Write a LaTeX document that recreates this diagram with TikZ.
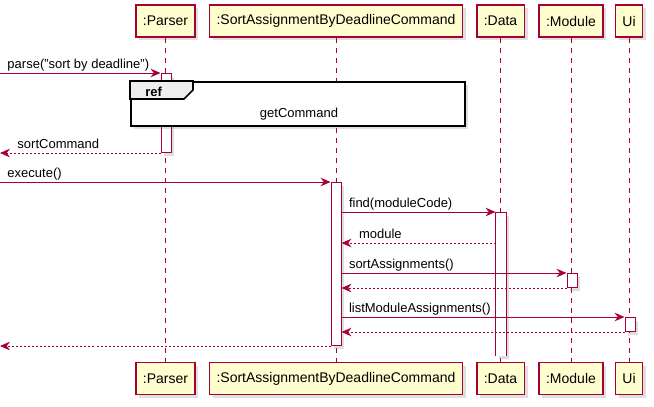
\documentclass[tikz,border=0pt]{standalone}
\usepackage{fontspec}
\setmainfont{Liberation Sans}
\usetikzlibrary{arrows.meta,shadows}
\definecolor{umlred}{HTML}{A80036}
\definecolor{umlfill}{HTML}{FEFECE}
\definecolor{refgray}{HTML}{EEEEEE}
\tikzset{
  umlfont/.style={font=\fontsize{9.75}{11}\selectfont},
  umlshadow/.style={drop shadow={shadow xshift=2.5pt, shadow yshift=-2.5pt, opacity=0.25}},
  part/.style={draw=umlred, line width=1.1pt, fill=umlfill, minimum height=24pt,
    inner xsep=5.25pt, font=\fontsize{10.5}{12}\selectfont, umlshadow},
  life/.style={umlred, line width=0.75pt, dash pattern=on 3.75pt off 3.75pt},
  act/.style={draw=umlred, line width=0.75pt, fill=white, minimum width=7.5pt,
    inner sep=0pt, anchor=north, umlshadow},
  msg/.style={umlred, line width=0.75pt, -{Stealth[length=7.5pt,width=6.5pt,inset=2.5pt]}},
  ret/.style={msg, dash pattern=on 1.5pt off 1.5pt},
  lbl/.style={text=black, inner sep=0pt, anchor=base west, umlfont, yshift=3.4pt},
}
\begin{document}
\begin{tikzpicture}[x=0.75pt, y=-0.75pt]
  \useasboundingbox (0,0) rectangle (654,407);
  % participants
  \node[part] (parserTop) at (165.5,21) {:Parser};
  \node[part] (sortTop) at (336,21) {:SortAssignmentByDeadlineCommand};
  \node[part] (dataTop) at (500.5,21) {:Data};
  \node[part] (moduleTop) at (571,21) {:Module};
  \node[part] (uiTop) at (629,21) {Ui};
  \node[part] (parserBot) at (165.5,378.5) {:Parser};
  \node[part] (sortBot) at (336,378.5) {:SortAssignmentByDeadlineCommand};
  \node[part] (dataBot) at (500.5,378.5) {:Data};
  \node[part] (moduleBot) at (571,378.5) {:Module};
  \node[part] (uiBot) at (629,378.5) {Ui};
  % lifelines
  \draw[life] (parserTop) -- (parserBot);
  \draw[life] (sortTop) -- (sortBot);
  \draw[life] (dataTop) -- (dataBot);
  \draw[life] (moduleTop) -- (moduleBot);
  \draw[life] (uiTop) -- (uiBot);
  % activations
  \node[act, minimum height=59.25pt] (parserAct) at (166,73) {};
  \node[act, minimum height=122.25pt] (sortAct) at (336,182) {};
  \node[act, draw=none, minimum height=107.25pt] (dataAct) at (501,212) {};
  \draw[umlred, line width=0.75pt] (dataAct.south west) -- (dataAct.north west)
    -- (dataAct.north east) -- (dataAct.south east);
  \node[act, minimum height=10.5pt] (moduleAct) at (572,273) {};
  \node[act, minimum height=10.5pt] (uiAct) at (630,317) {};
  \coordinate (edge) at (0,0);
  \coordinate (modY) at (0,243);
  % ref frame
  \node[draw=black, line width=1.3pt, fill=white, anchor=north west, inner sep=0pt,
    minimum width=250.5pt, minimum height=33pt, umlshadow] (refFrame) at (130,81) {};
  \draw[line width=1.3pt, fill=refgray] (refFrame.north west) -- ++(63,0) -- ++(0,9)
    -- ++(-9,9) -- ++(-54,0) -- cycle;
  \node[umlfont, inner sep=0pt, anchor=base west] (refTag) at (145,96) {\textbf{ref}};
  \node[umlfont, inner sep=0pt, anchor=base] (refText) at (299,117) {getCommand};
  % messages
  \draw[msg] (edge |- parserAct.north) -- node[lbl, pos=0, xshift=5.25pt] {parse("sort by deadline")} (parserAct.north west);
  \draw[ret] (parserAct.south west) -- node[lbl, pos=1, xshift=12.75pt] {sortCommand} (edge |- parserAct.south);
  \draw[msg] (edge |- sortAct.north) -- node[lbl, pos=0, xshift=5.25pt] {execute()} (sortAct.north west);
  \draw[msg] (sortAct.east |- dataAct.north) -- node[lbl, pos=0, xshift=5.25pt] {find(moduleCode)} (dataAct.north west);
  \draw[ret] (dataAct.west |- modY) -- node[lbl, pos=1, xshift=12.75pt] {module} (sortAct.east |- modY);
  \draw[msg] (sortAct.east |- moduleAct.north) -- node[lbl, pos=0, xshift=5.25pt] {sortAssignments()} (moduleAct.north west);
  \draw[ret] (moduleAct.south west) -- (sortAct.east |- moduleAct.south);
  \draw[msg] (sortAct.east |- uiAct.north) -- node[lbl, pos=0, xshift=5.25pt] {listModuleAssignments()} (uiAct.north west);
  \draw[ret] (uiAct.south west) -- (sortAct.east |- uiAct.south);
  \draw[ret] (sortAct.south west) -- (edge |- sortAct.south);
\end{tikzpicture}
\end{document}
